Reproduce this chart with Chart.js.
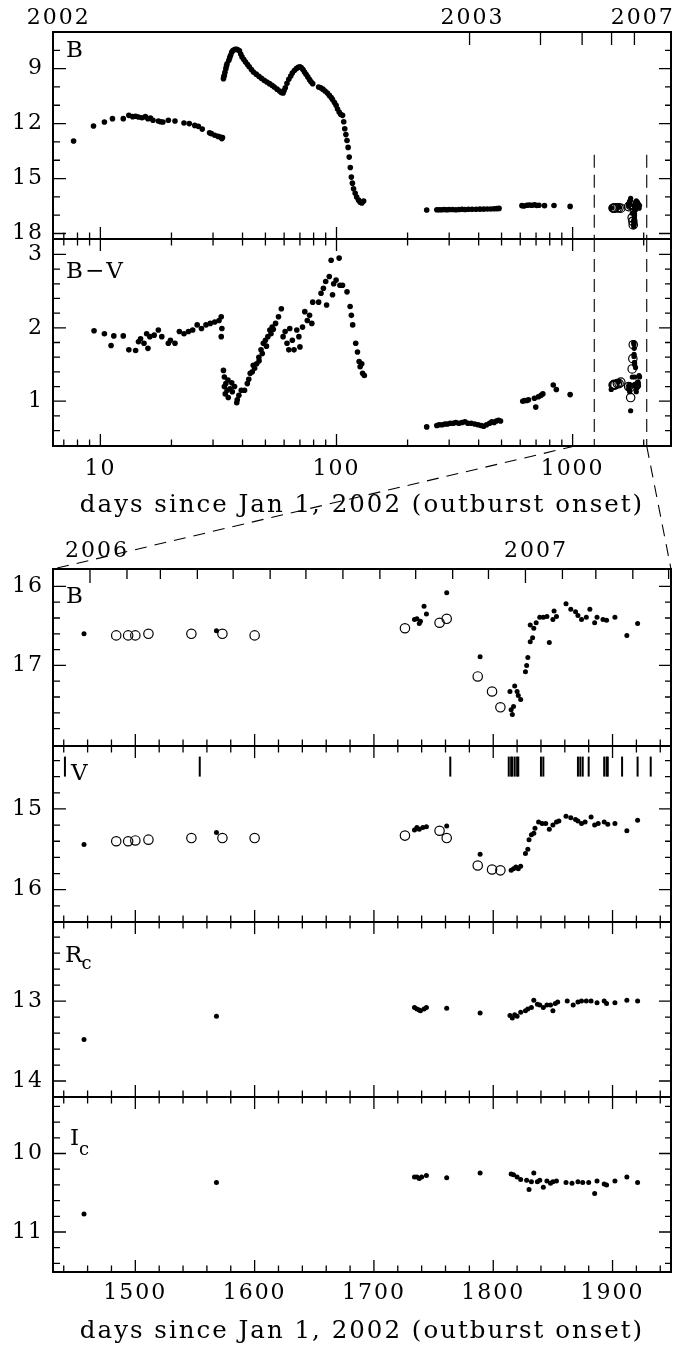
<!DOCTYPE html>
<html>
<head>
<meta charset="utf-8">
<script src="https://cdn.jsdelivr.net/npm/chart.js@4.4.0/dist/chart.umd.min.js"></script>
<style>
html, body { margin: 0; padding: 0; background: #fff; }
#page { position: relative; width: 691px; height: 1347px; overflow: hidden; background: #fff; }
canvas { position: absolute; left: 0; }
</style>
</head>
<body>
<div id="page"></div>
<script>
// ---- top section: days since Jan 1 2002 (log axis) ----
const topBDays = [7.7,9.35,10.4,11.25,12.5,13.2,13.7,14.1,14.5,15.0,15.5,15.9,16.3,16.7,17.6,18.0,18.4,19.4,20.7,22.6,23.8,25.1,26.0,27.0,29.0,29.5,30.5,31.5,32.2,32.7,32.9,
  33.2,33.3,33.5,33.7,34.0,34.2,34.4,35.0,35.3,35.6,36.0,36.5,37.2,37.8,38.3,38.8,39.3,39.8,40.5,41.2,42.0,42.7,43.6,44.5,45.7,46.9,48.1,49.4,50.7,52.0,53.3,54.5,56.0,57.4,58.4,59.4,
  60.0,60.7,61.7,62.8,64.0,65.0,66.3,67.6,68.8,70.0,71.0,72.1,73.2,74.3,75.6,76.9,78.0,79.3,84.0,85.7,87.5,89.4,91.5,93.3,95.0,96.2,98.0,99.6,101.0,102.6,104.3,106.1,
  107.3,108.4,109.6,110.8,112.0,113.2,114.4,115.6,116.8,118.1,120.0,121.7,124.0,126.0,128.0,130.3,
  241,266,272,279,286,293,300,310,320,330,340,350,362,375,390,405,420,435,450,465,478,488,
  610,622,640,655,672,690,705,720,760,834,976];
const topBMag = [12.95,12.13,11.91,11.73,11.73,11.55,11.62,11.60,11.64,11.68,11.62,11.73,11.70,11.82,11.86,11.90,11.91,11.82,11.86,11.97,12.00,12.10,12.15,12.30,12.50,12.55,12.64,12.70,12.73,12.82,12.76,
  9.55,9.45,9.36,9.20,9.00,8.85,8.73,8.54,8.40,8.27,8.10,8.00,7.95,7.94,7.98,8.03,8.20,8.36,8.50,8.64,8.78,8.90,9.05,9.18,9.30,9.42,9.53,9.64,9.73,9.82,9.91,10.00,10.12,10.22,10.30,10.33,
  10.20,10.04,9.80,9.58,9.40,9.24,9.10,9.00,8.93,8.90,8.95,9.05,9.18,9.31,9.45,9.60,9.72,9.82,10.00,10.04,10.12,10.22,10.33,10.46,10.58,10.69,10.85,11.00,11.20,11.37,11.50,11.55,
  11.90,12.28,12.60,12.92,13.30,13.83,14.40,14.92,15.25,15.56,15.80,16.01,16.18,16.29,16.33,16.23,
  16.72,16.70,16.70,16.70,16.69,16.70,16.69,16.69,16.70,16.69,16.68,16.69,16.68,16.68,16.68,16.67,16.67,16.66,16.66,16.65,16.64,16.63,
  16.48,16.50,16.46,16.44,16.46,16.43,16.47,16.46,16.48,16.47,16.52];

const topBVDays = [9.4,10.4,11.1,11.4,12.5,13.2,14.1,14.5,14.8,15.3,15.7,15.9,16.2,16.9,17.6,18.2,19.4,19.8,20.7,21.6,22.6,23.6,24.6,25.7,26.8,28.0,29.2,30.5,31.8,32.5,32.5,32.7,
  33.2,33.5,33.5,33.8,34.0,34.4,34.7,34.8,35.4,36.0,36.2,37.0,37.8,38.0,38.6,39.5,40.8,41.9,42.5,43.1,44.0,44.4,45.0,45.9,46.9,47.0,47.9,48.5,49.0,50.0,50.5,51.2,52.2,52.8,53.4,54.0,55.2,56.8,58.4,
  59.4,60.6,61.7,62.8,63.4,65.0,66.1,67.9,69.3,70.0,71.8,73.4,75.2,76.9,78.6,79.3,84.0,86.0,88.0,90.0,90.8,93.2,94.9,96.2,97.3,99.6,102.6,103.4,106.0,110.8,
  114.2,115.6,117.1,120.6,122.7,124.7,125.9,127.9,129.0,131.2,
  241,266,272,280,288,295,303,312,320,330,340,350,360,372,385,398,410,420,432,445,455,465,475,485,495,
  615,625,640,650,689,698,716,735,748,828,853,976];
const topBV = [1.96,1.92,1.76,1.89,1.89,1.70,1.69,1.81,1.85,1.79,1.92,1.72,1.88,1.90,1.97,1.88,1.79,1.83,1.79,1.95,1.92,1.95,1.97,2.04,1.99,2.04,2.06,2.08,2.10,2.15,1.88,1.99,
  1.42,1.33,1.20,1.10,1.24,1.15,1.29,1.05,1.17,1.25,1.13,1.20,0.98,1.02,1.08,1.15,1.15,1.24,1.30,1.38,1.40,1.49,1.45,1.51,1.60,1.55,1.70,1.65,1.79,1.83,1.75,1.88,1.97,1.92,2.01,1.98,2.06,2.15,2.26,
  1.88,1.95,1.79,1.70,1.99,1.83,1.70,1.97,1.88,1.74,2.01,2.22,2.10,2.17,2.06,2.35,2.35,2.47,2.54,2.63,2.31,2.70,2.92,2.45,2.60,2.65,2.95,2.58,2.58,2.49,
  2.29,2.17,2.04,1.79,1.67,1.54,1.47,1.51,1.38,1.35,
  0.65,0.67,0.68,0.68,0.69,0.69,0.70,0.70,0.71,0.70,0.71,0.72,0.70,0.70,0.69,0.68,0.67,0.66,0.68,0.70,0.72,0.71,0.73,0.74,0.73,
  1.00,1.01,1.01,1.02,1.04,0.92,1.06,1.08,1.10,1.22,1.16,1.09];

const bvLateDays = [1457,1568,1734,1736,1738,1741,1744,1761,1789,1815,1817,1819,1821,1823,1827,1829,1830,1832,1834,1836,1839,1842,1845,1847,1850,1853,1861,1865,1869,1871,1874,1878,1881,1885,1888,1893,1896,1902,1912,1921];
const bvLate = [1.16,1.27,1.16,1.18,1.22,1.21,1.13,0.87,1.33,1.80,1.78,1.61,1.64,1.72,1.53,1.50,1.52,1.33,1.23,1.22,1.23,1.21,1.20,1.46,1.22,1.22,1.13,1.18,1.19,1.22,1.24,1.23,1.19,1.26,1.21,1.26,1.24,1.21,1.35,1.33];
const bvLateOpen = [1.22,1.22,1.23,1.22,1.24,1.24,1.26,1.20,1.19,1.05,1.44,1.58,1.77];

// ---- zoomed section: 2006-2007 ----
const bDays = [1457,1568,1734,1736,1738,1739,1742,1744,1761,1789,1814,1815,1816,1817,1818,1820,1821,1823,1827,1828,1829,1831,1831,1833,1834,1836,1839,1842,1845,1847,1850,1851,1853,1861,1865,1869,1871,1874,1878,1881,1885,1887,1892,1895,1902,1912,1921];
const bMag = [16.60,16.56,16.42,16.41,16.47,16.44,16.25,16.35,16.08,16.89,17.33,17.56,17.62,17.52,17.26,17.33,17.38,17.43,17.08,17.00,16.90,16.70,16.49,16.65,16.53,16.46,16.39,16.39,16.38,16.71,16.42,16.31,16.38,16.22,16.29,16.32,16.37,16.42,16.39,16.29,16.46,16.39,16.42,16.43,16.39,16.62,16.47];
const openDays = [1484,1494,1500,1511,1547,1573,1600,1726,1755,1761,1787,1799,1806];
const bOpen = [16.62,16.62,16.62,16.60,16.60,16.60,16.62,16.53,16.46,16.41,17.14,17.33,17.53];

const vDays = [1457,1568,1734,1736,1738,1741,1744,1761,1789,1815,1817,1819,1821,1823,1827,1829,1830,1832,1834,1835,1838,1841,1844,1847,1850,1853,1855,1861,1865,1869,1871,1874,1877,1882,1885,1888,1893,1896,1902,1912,1921];
const vMag = [15.44,15.29,15.26,15.23,15.25,15.23,15.22,15.21,15.56,15.76,15.74,15.72,15.74,15.71,15.55,15.50,15.38,15.32,15.30,15.24,15.16,15.18,15.18,15.25,15.20,15.16,15.15,15.09,15.11,15.13,15.15,15.18,15.16,15.10,15.20,15.18,15.16,15.19,15.18,15.27,15.14];
const vOpen = [15.40,15.40,15.39,15.38,15.36,15.36,15.36,15.33,15.27,15.36,15.70,15.75,15.76];

const rDays = [1457,1568,1734,1736,1738,1739,1742,1744,1761,1789,1814,1816,1818,1820,1823,1827,1829,1832,1834,1837,1839,1842,1845,1848,1850,1852,1854,1862,1867,1871,1874,1878,1882,1887,1893,1895,1902,1912,1921];
const rMag = [13.48,13.19,13.08,13.10,13.11,13.12,13.10,13.08,13.09,13.15,13.18,13.21,13.17,13.19,13.14,13.12,13.10,13.08,12.99,13.04,13.05,13.08,13.05,13.05,13.12,13.03,13.01,13.00,13.05,13.01,13.00,13.00,13.00,13.02,13.00,13.03,13.02,12.99,13.00];

const iDays = [1457,1568,1734,1736,1738,1740,1744,1761,1789,1815,1817,1820,1823,1828,1830,1832,1834,1837,1839,1842,1845,1848,1850,1853,1861,1866,1871,1875,1880,1885,1887,1893,1895,1902,1912,1921];
const iMag = [10.77,10.37,10.30,10.30,10.32,10.30,10.28,10.31,10.25,10.26,10.27,10.30,10.33,10.34,10.46,10.36,10.25,10.36,10.34,10.43,10.35,10.38,10.36,10.35,10.37,10.38,10.36,10.37,10.37,10.51,10.35,10.39,10.40,10.35,10.30,10.37];

// epochs marked with bars in the V panel
const specDays = [1441,1554,1764,1813,1815,1816,1818,1820,1821,1840,1842,1871,1873,1875,1880,1893,1895,1896,1908,1921,1932];

// ---- ticks & labels ----
const logMajor = [10, 100, 1000];
const logMinor = [7,8,9,20,30,40,50,60,70,80,90,200,300,400,500,600,700,800,900,2000];
const yearTickDays = [366, 731, 1097, 1462, 1827];
const yearLabelDays = [6.6, 373, 1961];
const yearLabels = ['2002', '2003', '2007'];
const zoomYearLabelDays = [1467, 1835];
const zoomYearLabels = ['2006', '2007'];
const monthTickDays = [1493,1521,1552,1582,1613,1643,1674,1705,1735,1766,1796,1858,1886,1917,1947];
const janTickDays = [1462, 1827];
const dayMajor = [1500, 1600, 1700, 1800, 1900];
const dayMinor = [1440,1460,1480,1520,1540,1560,1580,1620,1640,1660,1680,1720,1740,1760,1780,1820,1840,1860,1880,1920,1940];
const windowDays = [1235, 2060];      // dashed lines bracketing the zoomed range
const connectorDays = [1023, 2060];   // where the connecting lines leave the top axis
const xTitle = 'days since Jan 1, 2002 (outburst onset)';

const page = document.getElementById('page');
const FAMILY = "'DejaVu Serif', serif";
const PLOT_L = 53, PLOT_R = 671;

function pts(xs, ys) { return xs.map((x, i) => ({x: x, y: ys[i]})); }
function dot(r) {
  return {showLine: false, pointRadius: r, pointBackgroundColor: '#000', pointBorderWidth: 0, pointHoverRadius: 0};
}
function ring(r) {
  return {showLine: false, pointRadius: r, pointBackgroundColor: 'rgba(0,0,0,0)', pointBorderColor: '#000', pointBorderWidth: 1.2, pointHoverRadius: 0};
}

// frame, inward ticks, panel label, year labels -- one plugin per panel
function framePlugin(p) {
  return {
    id: 'frame',
    beforeDraw(chart) { chart.ctx.letterSpacing = '2px'; },
    afterDraw(chart) {
      const ctx = chart.ctx, a = chart.chartArea;
      const xs = chart.scales.x, ys = chart.scales.y;
      ctx.save();
      ctx.letterSpacing = '2px';
      ctx.strokeStyle = '#000';
      ctx.fillStyle = '#000';
      if (p.extra) p.extra(chart, ctx);

      ctx.lineWidth = 1.3;
      ctx.setLineDash([]);
      ctx.beginPath();
      const yt = (vals, len) => vals.forEach(v => {
        const y = ys.getPixelForValue(v);
        ctx.moveTo(a.left, y); ctx.lineTo(a.left + len, y);
        ctx.moveTo(a.right, y); ctx.lineTo(a.right - len + 1, y);
      });
      yt(p.yMajor, 13);
      yt(p.yMinor, 7);
      (p.topTicks || []).forEach(t => t.vals.forEach(v => {
        const x = xs.getPixelForValue(v);
        ctx.moveTo(x, a.top); ctx.lineTo(x, a.top + t.len);
      }));
      (p.bottomTicks || []).forEach(t => t.vals.forEach(v => {
        const x = xs.getPixelForValue(v);
        ctx.moveTo(x, a.bottom); ctx.lineTo(x, a.bottom - t.len);
      }));
      ctx.stroke();

      ctx.lineWidth = 2;
      ctx.strokeRect(a.left, a.top, a.right - a.left, a.bottom - a.top);

      if (p.years) {
        ctx.font = '22px ' + FAMILY;
        ctx.textAlign = 'center';
        ctx.textBaseline = 'middle';
        p.years.days.forEach((d, i) => ctx.fillText(p.years.labels[i], xs.getPixelForValue(d) + 1, a.top - p.years.dy));
      }
      if (p.label) {
        const l = p.label;
        ctx.textAlign = 'left';
        ctx.textBaseline = 'alphabetic';
        ctx.font = '23px ' + FAMILY;
        ctx.fillText(l.text, a.left + l.dx, a.top + l.dy);
        if (l.sub) {
          ctx.font = '18px ' + FAMILY;
          ctx.fillText(l.sub, a.left + l.sdx, a.top + l.sdy);
        }
      }
      ctx.restore();
    }
  };
}

function panel(p) {
  const cv = document.createElement('canvas');
  const h = p.padTop + (p.bottom - p.top) + p.padBottom;
  cv.width = 691; cv.height = h;
  cv.style.top = (p.top - p.padTop) + 'px';
  page.appendChild(cv);
  const hasX = !!p.xLabels;
  const zeroPad = ax => { ax.paddingTop = 0; ax.paddingBottom = 0; ax.paddingLeft = 0; ax.paddingRight = 0; };
  const chart = new Chart(cv, {
    type: 'scatter',
    data: {datasets: p.datasets},
    options: {
      responsive: false, animation: false, devicePixelRatio: 1, events: [],
      layout: {autoPadding: false, padding: {left: 0, right: 691 - PLOT_R, top: p.padTop, bottom: hasX ? 0 : p.padBottom}},
      plugins: {legend: {display: false}, tooltip: {enabled: false}},
      scales: {
        x: {
          type: p.xType, min: p.xMin, max: p.xMax, display: hasX,
          grid: {display: false, drawTicks: false}, border: {display: false},
          afterBuildTicks: ax => { if (hasX) ax.ticks = p.xLabels.map(v => ({value: v})); },
          afterFit: ax => { zeroPad(ax); if (hasX) ax.height = p.padBottom; },
          ticks: {autoSkip: false, maxRotation: 0, minRotation: 0, padding: p.xLabelPad || 0, color: '#000',
                  font: {family: FAMILY, size: 22}, callback: v => String(v)},
          title: {display: hasX, text: xTitle, color: '#000', font: {family: FAMILY, size: 24.5}, padding: 0}
        },
        y: {
          type: 'linear', min: p.yMin, max: p.yMax, reverse: p.reverse,
          grid: {display: false, drawTicks: false}, border: {display: false},
          afterBuildTicks: ax => { ax.ticks = p.frame.yMajor.map(v => ({value: v})); },
          afterFit: ax => { zeroPad(ax); ax.width = PLOT_L; },
          ticks: {autoSkip: false, padding: 9, color: '#000', font: {family: FAMILY, size: 22}, callback: v => String(v)}
        }
      }
    },
    plugins: [framePlugin(p.frame)]
  });
  chart.$top = p.top - p.padTop;
  return chart;
}

const logTicks = [{vals: logMajor, len: 12}, {vals: logMinor, len: 6.5}];
const dayTicks = [{vals: dayMajor, len: 12}, {vals: dayMinor, len: 6.5}];

function windowLines(fromMag) {
  return (chart, ctx) => {
    const a = chart.chartArea;
    const y0 = fromMag == null ? a.top : chart.scales.y.getPixelForValue(fromMag);
    ctx.lineWidth = 1.1;
    ctx.setLineDash([13, 7]);
    ctx.beginPath();
    windowDays.forEach(d => {
      const x = chart.scales.x.getPixelForValue(d);
      ctx.moveTo(x, y0); ctx.lineTo(x, a.bottom);
    });
    ctx.stroke();
    ctx.setLineDash([]);
  };
}

const topB = panel({
  top: 32, bottom: 239, padTop: 32, padBottom: 14,
  xType: 'logarithmic', xMin: 6.3, xMax: 2610, yMin: 7.0, yMax: 18.3, reverse: true,
  datasets: [
    Object.assign({data: pts(topBDays, topBMag)}, dot(2.8)),
    Object.assign({data: pts(bDays, bMag)}, dot(2.6)),
    Object.assign({data: pts(openDays, bOpen)}, ring(4.2))
  ],
  frame: {
    yMajor: [9, 12, 15, 18], yMinor: [8, 10, 11, 13, 14, 16, 17],
    topTicks: [{vals: yearTickDays, len: 13}], bottomTicks: logTicks,
    years: {days: yearLabelDays, labels: yearLabels, dy: 13.5},
    label: {text: 'B', dx: 13, dy: 25},
    extra: windowLines(13.7)
  }
});

const topBVc = panel({
  top: 239, bottom: 446, padTop: 14, padBottom: 74, xLabels: logMajor, xLabelPad: 10,
  xType: 'logarithmic', xMin: 6.3, xMax: 2610, yMin: 0.39, yMax: 3.21, reverse: false,
  datasets: [
    Object.assign({data: pts(topBVDays, topBV)}, dot(2.8)),
    Object.assign({data: pts(bvLateDays, bvLate)}, dot(2.6)),
    Object.assign({data: pts(openDays, bvLateOpen)}, ring(4.2))
  ],
  frame: {
    yMajor: [1, 2, 3], yMinor: [0.6, 0.8, 1.2, 1.4, 1.6, 1.8, 2.2, 2.4, 2.6, 2.8],
    topTicks: logTicks, bottomTicks: logTicks,
    label: {text: 'B\u2212V', dx: 13, dy: 38.5},
    extra: windowLines(null)
  }
});

const zB = panel({
  top: 569, bottom: 746, padTop: 30, padBottom: 14,
  xType: 'linear', xMin: 1431, xMax: 1949, yMin: 15.78, yMax: 18.02, reverse: true,
  datasets: [
    Object.assign({data: pts(bDays, bMag)}, dot(2.5)),
    Object.assign({data: pts(openDays, bOpen)}, ring(4.7))
  ],
  frame: {
    yMajor: [16, 17], yMinor: [16.2, 16.4, 16.6, 16.8, 17.2, 17.4, 17.6, 17.8],
    topTicks: [{vals: janTickDays, len: 14}, {vals: monthTickDays, len: 10}], bottomTicks: dayTicks,
    years: {days: zoomYearLabelDays, labels: zoomYearLabels, dy: 18},
    label: {text: 'B', dx: 13, dy: 34}
  }
});

const zV = panel({
  top: 746, bottom: 922, padTop: 14, padBottom: 14,
  xType: 'linear', xMin: 1431, xMax: 1949, yMin: 14.22, yMax: 16.40, reverse: true,
  datasets: [
    Object.assign({data: pts(vDays, vMag)}, dot(2.5)),
    Object.assign({data: pts(openDays, vOpen)}, ring(4.7)),
    {data: specDays.map(d => ({x: d, y: 14.475})), showLine: false, pointStyle: 'line', rotation: 90,
     pointRadius: 10, pointBorderColor: '#000', pointBorderWidth: 2, pointHoverRadius: 0}
  ],
  frame: {
    yMajor: [15, 16], yMinor: [14.4, 14.6, 14.8, 15.2, 15.4, 15.6, 15.8, 16.2],
    topTicks: dayTicks, bottomTicks: dayTicks,
    label: {text: 'V', dx: 18, dy: 34}
  }
});

const zR = panel({
  top: 922, bottom: 1097, padTop: 14, padBottom: 14,
  xType: 'linear', xMin: 1431, xMax: 1949, yMin: 12.01, yMax: 14.2, reverse: true,
  datasets: [Object.assign({data: pts(rDays, rMag)}, dot(2.5))],
  frame: {
    yMajor: [13, 14], yMinor: [12.2, 12.4, 12.6, 12.8, 13.2, 13.4, 13.6, 13.8],
    topTicks: dayTicks, bottomTicks: dayTicks,
    label: {text: 'R', dx: 12, dy: 40, sub: 'c', sdx: 28.5, sdy: 46.5}
  }
});

const zI = panel({
  top: 1097, bottom: 1272, padTop: 14, padBottom: 74, xLabels: dayMajor, xLabelPad: 8,
  xType: 'linear', xMin: 1431, xMax: 1949, yMin: 9.28, yMax: 11.51, reverse: true,
  datasets: [Object.assign({data: pts(iDays, iMag)}, dot(2.5))],
  frame: {
    yMajor: [10, 11], yMinor: [9.4, 9.6, 9.8, 10.2, 10.4, 10.6, 10.8, 11.2, 11.4],
    topTicks: dayTicks, bottomTicks: dayTicks,
    label: {text: 'I', dx: 17, dy: 48, sub: 'c', sdx: 26, sdy: 58}
  }
});

// dashed lines joining the zoom window to the lower panels
const ov = document.createElement('canvas');
ov.width = 691; ov.height = 1347; ov.style.top = '0px';
page.appendChild(ov);
const o = ov.getContext('2d');
const yFrom = topBVc.chartArea.bottom + topBVc.$top;
const yTo = zB.chartArea.top + zB.$top;
o.strokeStyle = '#000';
o.lineWidth = 1.1;
o.setLineDash([12, 8]);
o.beginPath();
o.moveTo(topBVc.scales.x.getPixelForValue(connectorDays[0]), yFrom);
o.lineTo(zB.chartArea.left, yTo);
o.moveTo(topBVc.scales.x.getPixelForValue(connectorDays[1]), yFrom);
o.lineTo(zB.chartArea.right, yTo);
o.stroke();
</script>
</body>
</html>
